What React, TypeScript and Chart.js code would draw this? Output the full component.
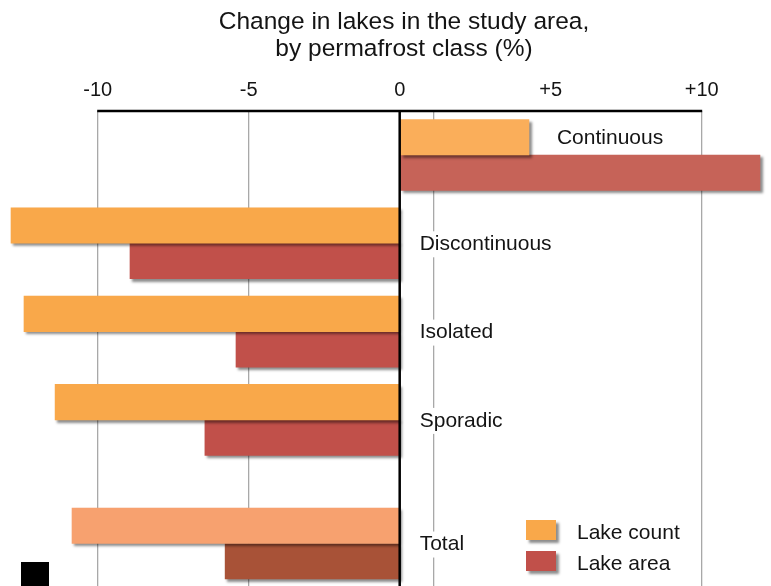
import React, { useEffect, useRef } from 'react';
import { Chart, registerables } from 'chart.js';

Chart.register(...registerables);

const titleLines = ['Change in lakes in the study area,', 'by permafrost class (%)'];
const categories = ['Continuous', 'Discontinuous', 'Isolated', 'Sporadic', 'Total'];
const categoryRows = [0, 1, 2, 3, 4.4];
const seriesNames = ['Lake count', 'Lake area'];
const lakeCount = [4.28, -12.87, -12.44, -11.41, -10.85];
const lakeArea = [11.93, -8.93, -5.42, -6.45, -5.78];
const tickValues = [-10, -5, 0, 5, 10];
const extraGridValue = 1.14;

const countColors = ['#FAAE5A', '#F9A84A', '#F9A84A', '#F9A84A', '#F7A16F'];
const areaColors = ['#C66358', '#C1504A', '#C1504A', '#C1504A', '#A85237'];
const legendColors = ['#F9A84A', '#C1504A'];

const FONT = "'Liberation Sans', Arial, Helvetica, sans-serif";
const TEXT = '#141414';
const LABEL_SIZE = 21;

const decorPlugin = {
  id: 'decor',
  beforeDraw(chart: any) {
    const tb = chart.titleBlock;
    if (tb) {
      const right = chart.width;
      tb.left = 2 * 404 - right;
      tb.right = right;
    }
  },
  beforeDatasetsDraw(chart: any) {
    const ctx = chart.ctx;
    ctx.save();
    ctx.shadowColor = 'rgba(0,0,0,0.45)';
    ctx.shadowOffsetX = 2.5;
    ctx.shadowOffsetY = 2.5;
    ctx.shadowBlur = 2.5;
  },
  afterDatasetsDraw(chart: any) {
    const ctx = chart.ctx;
    ctx.restore();
    const xs = chart.scales.x;
    const ys = chart.scales.y;
    const area = chart.chartArea;
    const x0 = xs.getPixelForValue(0);

    ctx.save();
    ctx.strokeStyle = '#000';
    ctx.lineWidth = 2.5;
    ctx.beginPath();
    ctx.moveTo(x0, area.top);
    ctx.lineTo(x0, area.bottom);
    ctx.stroke();
    ctx.beginPath();
    ctx.moveTo(xs.getPixelForValue(tickValues[0]) - 0.5, area.top);
    ctx.lineTo(xs.getPixelForValue(tickValues[tickValues.length - 1]) + 0.5, area.top);
    ctx.stroke();

    // category labels
    ctx.font = `${LABEL_SIZE}px ${FONT}`;
    ctx.textBaseline = 'middle';
    ctx.textAlign = 'left';
    const meta0 = chart.getDatasetMeta(0);
    categories.forEach((c, i) => {
      const bar = meta0.data[i];
      let tx: number;
      let ty: number;
      if (lakeCount[i] > 0) {
        tx = bar.x + 28;
        ty = bar.y + 1;
      } else {
        tx = x0 + 20;
        ty = ys.getPixelForValue(categoryRows[i]) + 1;
      }
      const w = ctx.measureText(c).width;
      ctx.fillStyle = '#fff';
      ctx.fillRect(tx - 2, ty - 13, w + 4, 26);
      ctx.fillStyle = TEXT;
      ctx.fillText(c, tx, ty);
    });

    // legend
    const lx = 526;
    const ly = [520, 551];
    seriesNames.forEach((name, i) => {
      ctx.save();
      ctx.shadowColor = 'rgba(0,0,0,0.45)';
      ctx.shadowOffsetX = 2.5;
      ctx.shadowOffsetY = 2.5;
      ctx.shadowBlur = 2.5;
      ctx.fillStyle = legendColors[i];
      ctx.fillRect(lx, ly[i], 30, 20);
      ctx.restore();
      ctx.fillStyle = TEXT;
      ctx.font = `${LABEL_SIZE}px ${FONT}`;
      ctx.textBaseline = 'middle';
      ctx.fillText(name, lx + 51, ly[i] + 13.5);
    });
    ctx.restore();
  },
};

export default function App() {
  const ref = useRef<HTMLCanvasElement | null>(null);
  useEffect(() => {
    if (!ref.current) return;
    const chart = new Chart(ref.current, {
      type: 'bar',
      data: {
        datasets: [
          {
            label: seriesNames[0],
            data: categories.map((_, i) => ({ x: lakeCount[i], y: categoryRows[i] })),
            backgroundColor: countColors,
            borderWidth: 0,
            barThickness: 35.5,
          },
          {
            label: seriesNames[1],
            data: categories.map((_, i) => ({ x: lakeArea[i], y: categoryRows[i] })),
            backgroundColor: areaColors,
            borderWidth: 0,
            barThickness: 35.5,
          },
        ],
      } as any,
      options: {
        indexAxis: 'y',
        animation: false,
        responsive: false,
        layout: { padding: 0 },
        plugins: {
          legend: { display: false },
          tooltip: { enabled: false },
          title: {
            display: true,
            text: titleLines,
            color: TEXT,
            font: { family: FONT, size: 24.5, weight: 'normal', lineHeight: 1.086 },
            padding: { top: 9.2, bottom: 6.6 },
          },
        },
        scales: {
          x: {
            type: 'linear',
            position: 'top',
            min: -13.235,
            max: 12.295,
            afterBuildTicks: (s: any) => {
              s.ticks = [...tickValues, extraGridValue]
                .sort((a, b) => a - b)
                .map((v) => ({ value: v }));
            },
            ticks: {
              autoSkip: false,
              maxRotation: 0,
              padding: 9,
              color: TEXT,
              font: { family: FONT, size: 20, lineHeight: 1.2 },
              callback: (v: any) =>
                v === extraGridValue ? '' : v > 0 ? `+${v}` : `${v}`,
            },
            grid: {
              drawTicks: false,
              lineWidth: 1.3,
              color: (c: any) =>
                c.tick && (c.tick.value === 5 || c.tick.value === 0)
                  ? 'rgba(0,0,0,0)'
                  : '#A8A8A8',
            },
            border: { display: false },
          },
          y: {
            type: 'linear',
            display: false,
            reverse: true,
            offset: false,
            grace: 0,
            min: -0.498,
            max: 4.881,
          },
        },
      } as any,
      plugins: [decorPlugin],
    });
    return () => chart.destroy();
  }, []);

  return (
    <div style={{ position: 'fixed', left: 0, top: 0, width: 771, height: 586, background: '#fff' }}>
      <canvas ref={ref} width={771} height={586} style={{ display: 'block' }} />
      <div style={{ position: 'absolute', left: 21, top: 562, width: 28, height: 24, background: '#000' }} />
    </div>
  );
}
